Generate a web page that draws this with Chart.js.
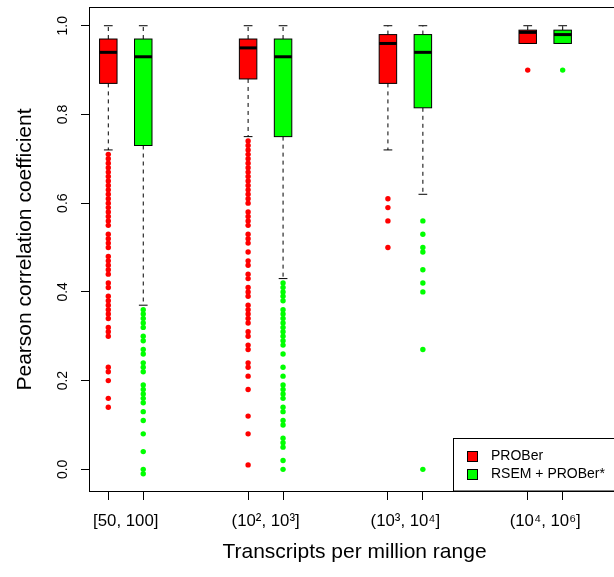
<!DOCTYPE html>
<html>
<head>
<meta charset="utf-8">
<script src="https://cdn.jsdelivr.net/npm/chart.js@4.4.1/dist/chart.umd.min.js"></script>
<style>
  html, body { margin: 0; padding: 0; background: #fff; overflow: hidden; width: 614px; height: 577px; }
  #wrap { position: absolute; left: 0; top: 0; width: 614px; height: 577px; overflow: hidden; }
  #c { display: block; }
</style>
</head>
<body>
<div id="wrap"><canvas id="c" width="630" height="577"></canvas></div>
<script>
// ---------------- data ----------------
const categories = ['[50, 100]', '(10\u00B2, 10\u00B3]', '(10\u00B3, 10\u2074]', '(10\u2074, 10\u2076]'];
const seriesNames = ['PROBer', 'RSEM + PROBer*'];
const yTickValues = [0.0, 0.2, 0.4, 0.6, 0.8, 1.0];
const xTitle = 'Transcripts per million range';
const yTitle = 'Pearson correlation coefficient';

// PROBer box statistics per TPM range
const proberUpper  = [1.00, 1.00, 1.00, 1.00];
const proberQ3     = [0.97, 0.97, 0.98, 0.99];
const proberMedian = [0.94, 0.95, 0.96, 0.985];
const proberQ1     = [0.87, 0.88, 0.87, 0.96];
const proberLower  = [0.72, 0.75, 0.72, 0.96];
const proberOutliers = [
  [0.71, 0.70, 0.69, 0.68, 0.67, 0.66, 0.65, 0.64, 0.63, 0.62, 0.61, 0.60, 0.59, 0.58, 0.57, 0.56, 0.55,
   0.53, 0.52, 0.51, 0.50, 0.48, 0.47, 0.46, 0.45, 0.44, 0.42, 0.41, 0.39, 0.38, 0.37, 0.36, 0.35, 0.34,
   0.32, 0.31, 0.30, 0.23, 0.22, 0.20, 0.16, 0.14],
  [0.74, 0.73, 0.72, 0.71, 0.70, 0.69, 0.68, 0.67, 0.66, 0.65, 0.64, 0.63, 0.62, 0.61, 0.60, 0.58, 0.57,
   0.56, 0.55, 0.53, 0.52, 0.51, 0.49, 0.47, 0.46, 0.44, 0.43, 0.41, 0.40, 0.39, 0.37, 0.36, 0.35, 0.34,
   0.33, 0.31, 0.30, 0.28, 0.27, 0.24, 0.23, 0.21, 0.18, 0.12, 0.08, 0.01],
  [0.61, 0.59, 0.56, 0.50],
  [0.90]
];

// RSEM + PROBer* box statistics per TPM range
const rsemUpper  = [1.00, 1.00, 1.00, 1.00];
const rsemQ3     = [0.97, 0.97, 0.98, 0.99];
const rsemMedian = [0.93, 0.93, 0.94, 0.98];
const rsemQ1     = [0.73, 0.75, 0.815, 0.96];
const rsemLower  = [0.37, 0.43, 0.62, 0.96];
const rsemOutliers = [
  [0.36, 0.35, 0.34, 0.33, 0.32, 0.30, 0.29, 0.27, 0.26, 0.24, 0.23, 0.22, 0.19, 0.18, 0.17, 0.16, 0.15,
   0.13, 0.11, 0.08, 0.04, 0.00, -0.01],
  [0.42, 0.41, 0.40, 0.39, 0.38, 0.36, 0.35, 0.34, 0.33, 0.32, 0.31, 0.30, 0.29, 0.28, 0.26, 0.23, 0.21,
   0.19, 0.18, 0.17, 0.16, 0.14, 0.13, 0.11, 0.10, 0.07, 0.06, 0.05, 0.02, 0.00],
  [0.56, 0.53, 0.50, 0.49, 0.45, 0.42, 0.40, 0.27, 0.00],
  [0.90]
];

// ---------------- presentation ----------------
const seriesColors = ['#ff0000', '#00ff00'];
const FONT = '"Liberation Sans", Arial, Helvetica, sans-serif';
const slot = (g, s) => 1 + 4 * g + s;          // boxplot 'at' positions
const stats = [
  { upper: proberUpper, q3: proberQ3, med: proberMedian, q1: proberQ1, lower: proberLower, out: proberOutliers },
  { upper: rsemUpper,   q3: rsemQ3,   med: rsemMedian,   q1: rsemQ1,   lower: rsemLower,   out: rsemOutliers }
];

Chart.defaults.font.family = FONT;
Chart.defaults.color = '#000';

function seg(ctx, x1, y1, x2, y2) {
  ctx.beginPath(); ctx.moveTo(x1, y1); ctx.lineTo(x2, y2); ctx.stroke();
}

const boxPlugin = {
  id: 'rBoxes',
  beforeDatasetsDraw(chart) {
    const { ctx, scales: { x, y } } = chart;
    ctx.save();
    stats.forEach((st, s) => {
      categories.forEach((cat, g) => {
        const p = slot(g, s);
        const xc = x.getPixelForValue(p);
        const hw = x.getPixelForValue(p + 0.25) - xc;
        const yU = y.getPixelForValue(st.upper[g]);
        const y3 = y.getPixelForValue(st.q3[g]);
        const yM = y.getPixelForValue(st.med[g]);
        const y1 = y.getPixelForValue(st.q1[g]);
        const yL = y.getPixelForValue(st.lower[g]);
        ctx.strokeStyle = '#000';
        ctx.lineWidth = 1;
        ctx.setLineDash([4, 4]);
        seg(ctx, xc, y3, xc, yU);
        seg(ctx, xc, y1, xc, yL);
        ctx.setLineDash([]);
        seg(ctx, xc - hw / 2, yU, xc + hw / 2, yU);
        seg(ctx, xc - hw / 2, yL, xc + hw / 2, yL);
        ctx.fillStyle = seriesColors[s];
        ctx.fillRect(xc - hw, y3, 2 * hw, y1 - y3);
        ctx.strokeRect(xc - hw, y3, 2 * hw, y1 - y3);
        ctx.lineWidth = 3;
        seg(ctx, xc - hw, yM, xc + hw, yM);
      });
    });
    ctx.restore();
  },
  afterDraw(chart) {
    const { ctx, chartArea: a } = chart;
    ctx.save();
    ctx.strokeStyle = '#000';
    ctx.lineWidth = 1;
    ctx.strokeRect(Math.round(a.left) + 0.5, Math.round(a.top) + 0.5,
                   Math.round(a.right - a.left), Math.round(a.bottom - a.top) - 1);
    // legend (bottom-right, inside plot region)
    const lx = 453.5, ly = 438.5;
    ctx.fillStyle = '#fff';
    ctx.fillRect(lx, ly, a.right - lx, a.bottom - 1 - ly);
    ctx.strokeRect(lx, ly, a.right - lx, a.bottom - 1 - ly);
    ctx.font = '14px ' + FONT;
    ctx.textBaseline = 'middle';
    ctx.textAlign = 'left';
    chart.data.datasets.forEach((ds, i) => {
      const cy = 456.5 + i * 18;
      ctx.fillStyle = ds.backgroundColor;
      ctx.fillRect(467.5, cy - 5, 10, 10);
      ctx.strokeRect(467.5, cy - 5, 10, 10);
      ctx.fillStyle = '#000';
      ctx.fillText(ds.label, 491, cy);
    });
    ctx.restore();
  }
};

const zeroPad = (scale) => { scale.paddingTop = 0; scale.paddingBottom = 0; scale.paddingLeft = 0; scale.paddingRight = 0; };

new Chart(document.getElementById('c'), {
  type: 'scatter',
  data: {
    datasets: stats.map((st, s) => ({
      label: seriesNames[s],
      data: st.out.flatMap((vals, g) => vals.map(v => ({ x: slot(g, s), y: v }))),
      backgroundColor: seriesColors[s],
      borderColor: seriesColors[s],
      pointRadius: 2.7,
      pointHoverRadius: 2.7,
      pointBorderWidth: 0
    }))
  },
  options: {
    responsive: false,
    animation: false,
    events: [],
    layout: { padding: { left: 0, top: 7, right: 10, bottom: 0 } },
    plugins: { legend: { display: false }, tooltip: { enabled: false } },
    scales: {
      x: {
        type: 'linear', position: 'bottom', weight: 0,
        min: 0.4478, max: 15.64,
        afterBuildTicks: (sc) => { sc.ticks = categories.flatMap((c, g) => [{ value: slot(g, 0) }, { value: slot(g, 1) }]); },
        ticks: { display: false },
        grid: { display: true, drawOnChartArea: false, drawTicks: true, tickLength: 8, color: '#000', lineWidth: 1 },
        border: { display: false },
        afterFit: (sc) => { sc.height = 8; zeroPad(sc); }
      },
      x2: {
        type: 'linear', position: 'bottom', weight: 1,
        min: 0.4478, max: 15.64,
        afterBuildTicks: (sc) => { sc.ticks = categories.map((c, g) => ({ value: (slot(g, 0) + slot(g, 1)) / 2 })); },
        ticks: {
          autoSkip: false, maxRotation: 0, minRotation: 0, padding: 11,
          font: { size: 16.8 }, color: '#000',
          callback: (v, i) => categories[i]
        },
        grid: { display: false, drawTicks: false },
        border: { display: false },
        title: { display: true, text: xTitle, font: { size: 21 }, color: '#000', padding: { top: 0, bottom: 12 } },
        afterFit: (sc) => { sc.height = 77; zeroPad(sc); }
      },
      y: {
        type: 'linear', position: 'left',
        min: -0.0511, max: 1.0422,
        afterBuildTicks: (sc) => { sc.ticks = yTickValues.map(v => ({ value: v })); },
        ticks: {
          minRotation: 90, maxRotation: 90, crossAlign: 'center', padding: 8.3,
          font: { size: 14 }, color: '#000',
          callback: (v) => Number(v).toFixed(1)
        },
        grid: { display: true, drawOnChartArea: false, drawTicks: true, tickLength: 8, color: '#000', lineWidth: 1 },
        border: { display: false },
        title: { display: true, text: yTitle, font: { size: 21 }, color: '#000', padding: { top: 13, bottom: 0 } },
        afterFit: (sc) => { sc.width = 89; zeroPad(sc); }
      }
    }
  },
  plugins: [boxPlugin]
});
</script>
</body>
</html>
